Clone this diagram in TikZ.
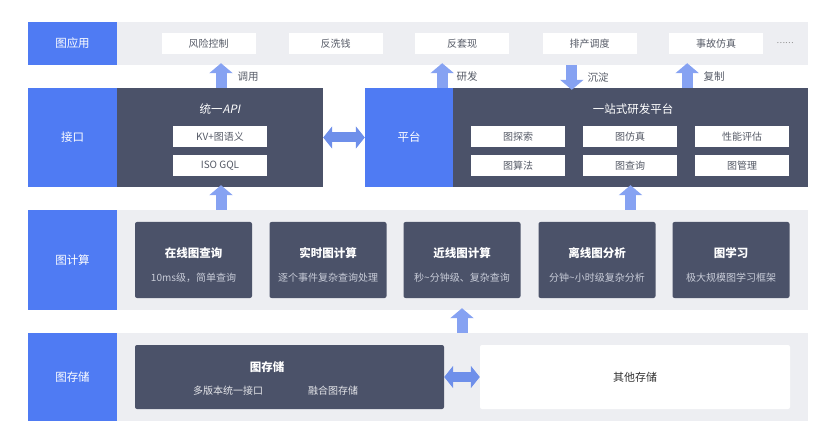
\documentclass[tikz,border=0pt]{standalone}
\usepackage{fontspec}
\setmainfont{Noto Sans CJK SC}
\newfontfamily\slantfont{Noto Sans CJK SC}[FakeSlant=0.2]
\usepackage{tikz}
\usetikzlibrary{arrows.meta, positioning, calc}

\definecolor{layerblue}{HTML}{4F7BF3}
\definecolor{darkbox}{HTML}{4B5269}
\definecolor{bandgray}{HTML}{EDEEF2}
\definecolor{itemtext}{HTML}{555A66}
\definecolor{subtext}{HTML}{C8CCD8}
\definecolor{arrowblue}{HTML}{86A2F2}
\definecolor{twowayblue}{HTML}{6E8FEA}

\begin{document}
\begin{tikzpicture}[
      x=1pt, y=-1pt,
      layer/.style={rectangle, fill=layerblue, text=white, inner sep=0pt, font=\fontsize{11.5}{13}\selectfont, minimum width=89pt},
      band/.style={rectangle, fill=bandgray, inner sep=0pt, minimum width=691pt},
      darkpanel/.style={rectangle, fill=darkbox, inner sep=0pt},
      item/.style={rectangle, fill=white, text=itemtext, inner sep=0pt, minimum width=94pt, minimum height=21pt, font=\fontsize{10}{12}\selectfont},
      engine/.style={rectangle, rounded corners=2pt, fill=darkbox, inner sep=0pt, minimum width=117pt, minimum height=76pt},
      title/.style={text=white, inner sep=0pt, font=\fontsize{11.5}{13}\selectfont\bfseries},
      subtitle/.style={text=subtext, inner sep=0pt, font=\fontsize{10}{12}\selectfont},
      note/.style={text=itemtext, inner sep=0pt, font=\fontsize{10.5}{12}\selectfont},
      uparrow/.style={draw=arrowblue, line width=11pt, -{Triangle[width=23pt, length=10pt]}, shorten >=-2pt},
      twoway/.style={draw=twowayblue, line width=10pt, {Triangle[width=22pt, length=9pt]}-{Triangle[width=22pt, length=9pt]}}
  ]
      \useasboundingbox (0,0) rectangle (831,441);

      % Application layer
      \node[band, minimum height=43pt] (appband) at (462.5,43.5) {};
      \node[layer, minimum height=43pt] (app) at (72.5,43.5) {图应用};
      \node[item] (risk) at (208.5,43.5) {风险控制};
      \node[item] (aml) at (335.5,43.5) {反洗钱};
      \node[item] (cashout) at (462,43.5) {反套现};
      \node[item] (sched) at (589.5,43.5) {排产调度};
      \node[item] (accident) at (716,43.5) {事故仿真};
      \node[note, text=gray, font=\fontsize{8}{10}\selectfont] (more) at (785,43.5) {……};

      % Interface layer
      \node[layer, minimum height=99pt] (iface) at (72.5,137.5) {接口};
      \node[darkpanel, minimum width=206pt, minimum height=99pt] (api) at (220,137.5) {};
      \node[title, font=\fontsize{11.5}{13}\selectfont] (apititle) at (220,109) {统一{\slantfont API}};
      \node[item] (kv) at (220,136.5) {KV+图语义};
      \node[item] (gql) at (220,166) {ISO GQL};

      \node[layer, minimum width=88pt, minimum height=99pt] (plat) at (409,137.5) {平台};
      \node[darkpanel, minimum width=355pt, minimum height=99pt] (platbox) at (630.5,137.5) {};
      \node[title, font=\fontsize{11.5}{13}\selectfont] (plattitle) at (633,109) {一站式研发平台};
      \node[item] (explore) at (518,136.5) {图探索};
      \node[item] (simu) at (630,136.5) {图仿真};
      \node[item] (perf) at (742,136.5) {性能评估};
      \node[item] (algo) at (518,166) {图算法};
      \node[item] (query) at (630,166) {图查询};
      \node[item] (manage) at (742,166) {图管理};

      % Compute layer
      \node[band, minimum height=100pt] (compband) at (462.5,260) {};
      \node[layer, minimum height=100pt] (comp) at (72.5,260) {图计算};
      \node[engine] (online) at (193.5,260) {};
      \node[engine] (realtime) at (328,260) {};
      \node[engine] (nearline) at (462,260) {};
      \node[engine] (offline) at (597,260) {};
      \node[engine] (learn) at (731,260) {};
      \node[title] (online-t) at (193.5,253) {在线图查询};
      \node[subtitle] (online-s) at (193.5,278) {10ms级，简单查询};
      \node[title] (realtime-t) at (328,253) {实时图计算};
      \node[subtitle] (realtime-s) at (328,278) {逐个事件复杂查询处理};
      \node[title] (nearline-t) at (462,253) {近线图计算};
      \node[subtitle] (nearline-s) at (462,278) {秒\textasciitilde 分钟级、复杂查询};
      \node[title] (offline-t) at (597,253) {离线图分析};
      \node[subtitle] (offline-s) at (597,278) {分钟\textasciitilde 小时级复杂分析};
      \node[title] (learn-t) at (731,253) {图学习};
      \node[subtitle] (learn-s) at (731,278) {极大规模图学习框架};

      % Storage layer
      \node[band, minimum height=88pt] (storeband) at (462.5,377) {};
      \node[layer, minimum height=88pt] (store) at (72.5,377) {图存储};
      \node[darkpanel, rounded corners=2pt, minimum width=309pt, minimum height=64pt] (storebox) at (289.5,377) {};
      \node[title] (store-t) at (267,367.5) {图存储};
      \node[subtitle, text=white!85!darkbox] (store-a) at (228,391) {多版本统一接口};
      \node[subtitle, text=white!85!darkbox] (store-b) at (333,391) {融合图存储};
      \node[item, rounded corners=2pt, minimum width=310pt, minimum height=64pt, text=black!80, font=\fontsize{11}{13}\selectfont] (other) at (635,377) {其他存储};

      % Arrows
      \draw[uparrow] ([xshift=1pt]api.north) -- ([xshift=1pt]api.north |- appband.south);
      \draw[uparrow] ([xshift=-11pt]plat.north east) -- ([xshift=-11pt]plat.north east |- appband.south);
      \draw[uparrow] ([xshift=119pt]platbox.north west |- appband.south) -- ([xshift=119pt]platbox.north west);
      \draw[uparrow] ([xshift=-121pt]platbox.north east) -- ([xshift=-121pt]platbox.north east |- appband.south);
      \draw[uparrow] ([xshift=1pt]api.south |- compband.north) -- ([xshift=1pt]api.south);
      \draw[uparrow] (platbox.south |- compband.north) -- (platbox.south);
      \draw[uparrow] (nearline.south |- storeband.north) -- (nearline.south |- compband.south);
      \draw[twoway] (api.east) -- (plat.west);
      \draw[twoway] (storebox.east) -- (other.west);

      % Arrow labels
      \node[note] (call) at (248,77) {调用};
      \node[note] (dev) at (467,77) {研发};
      \node[note] (settle) at (598,77) {沉淀};
      \node[note] (copy) at (714,77) {复制};
  \end{tikzpicture}
\end{document}
